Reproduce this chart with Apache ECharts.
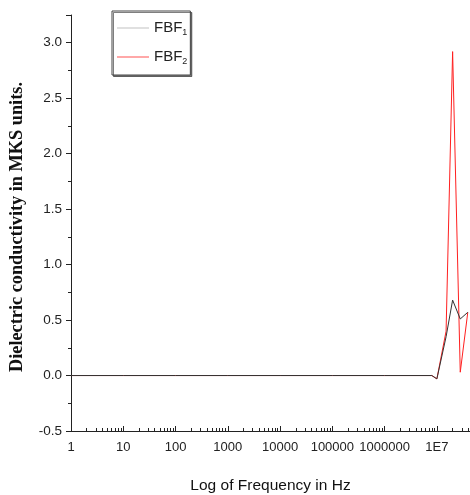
<!DOCTYPE html>
<html>
<head>
<meta charset="utf-8">
<script src="https://cdn.jsdelivr.net/npm/echarts@6/dist/echarts.min.js"></script>
<style>html,body{margin:0;padding:0;background:#fff}#c{width:470px;height:495px}</style>
</head>
<body>
<div id="c"></div>
<script>
const freq = [1, 10, 100, 1000, 10000, 100000, 1000000, 8000000, 10000000, 15000000, 20000000, 28000000, 39000000];
const fbf1 = [0, 0, 0, 0, 0, 0, 0, 0, -0.03, 0.35, 0.68, 0.51, 0.57];
const fbf2 = [0, 0, 0, 0, 0, 0, 0, 0, -0.03, 0.40, 2.92, 0.03, 0.57];
const seriesNames = ['FBF{s|1}', 'FBF{s|2}'];
const xTitle = 'Log of Frequency in Hz';
const yTitle = 'Dielectric conductivity in MKS units.';

const narrow = '"Liberation Sans Narrow", "Arial Narrow", "Liberation Sans", sans-serif';
const chart = echarts.init(document.getElementById('c'));
chart.setOption({
  animation: false,
  backgroundColor: '#fff',
  grid: { left: 71, right: 0, top: 15, bottom: 64, outerBoundsMode: 'none' },
  legend: {
    left: 112, top: 11,
    orient: 'vertical',
    icon: 'rect',
    itemGap: 5,
    itemWidth: 32, itemHeight: 1,
    padding: [2, 3, 9, 5],
    borderColor: '#444', borderWidth: 1,
    shadowColor: 'rgba(0,0,0,0.5)', shadowOffsetX: 1.5, shadowOffsetY: 1.5, shadowBlur: 0,
    backgroundColor: '#fff',
    textStyle: {
      fontFamily: narrow, fontSize: 15, color: '#222', lineHeight: 18,
      rich: { s: { fontSize: 9, lineHeight: 9, verticalAlign: 'bottom', padding: [15, 0, 0, 0], fontFamily: narrow, color: '#222' } }
    },
    data: [
      { name: seriesNames[0], itemStyle: { color: '#c0c0c0' } },
      { name: seriesNames[1], itemStyle: { color: '#ff5050' } }
    ]
  },
  xAxis: {
    type: 'log', logBase: 10, min: 1, max: 43000000,
    name: xTitle, nameLocation: 'middle', nameGap: 47,
    nameTextStyle: { fontFamily: 'Liberation Sans', fontSize: 15.5, color: '#111' },
    axisLine: { onZero: false, lineStyle: { color: '#222', width: 1 } },
    axisTick: { inside: true, length: 5, lineStyle: { color: '#222' } },
    minorTick: { show: true, splitNumber: 9, length: 3, lineStyle: { color: '#222' } },
    splitLine: { show: false },
    axisLabel: {
      showMaxLabel: false,
      fontFamily: narrow, fontSize: 13, color: '#222', margin: 10,
      formatter: v => v >= 1e7 ? '1E' + Math.round(Math.log10(v)) : String(Math.round(v))
    }
  },
  yAxis: {
    type: 'value', min: -0.5, max: 3.25, interval: 0.5,
    name: yTitle, nameLocation: 'middle', nameGap: 45, nameRotate: 90,
    nameTextStyle: { fontFamily: 'Liberation Serif', fontWeight: 'bold', fontSize: 18.3, color: '#111', padding: [0, 8, 0, 0] },
    axisLine: { show: true, onZero: false, lineStyle: { color: '#222', width: 1 } },
    axisTick: { inside: false, length: 5, lineStyle: { color: '#222' } },
    minorTick: { show: true, splitNumber: 2, length: 3, lineStyle: { color: '#222' } },
    splitLine: { show: false },
    axisLabel: {
      showMaxLabel: false,
      fontFamily: narrow, fontSize: 13.5, color: '#222', margin: 9,
      formatter: v => v.toFixed(1)
    }
  },
  series: [
    {
      name: seriesNames[0], type: 'line', symbol: 'none',
      data: freq.map((f, i) => [f, fbf1[i]]),
      lineStyle: { color: '#333', width: 1 }, itemStyle: { color: '#333' }, z: 3
    },
    {
      name: seriesNames[1], type: 'line', symbol: 'none',
      data: freq.map((f, i) => [f, fbf2[i]]),
      lineStyle: { color: '#ff2020', width: 1 }, itemStyle: { color: '#ff2020' }, z: 2
    }
  ]
});
</script>
</body>
</html>
